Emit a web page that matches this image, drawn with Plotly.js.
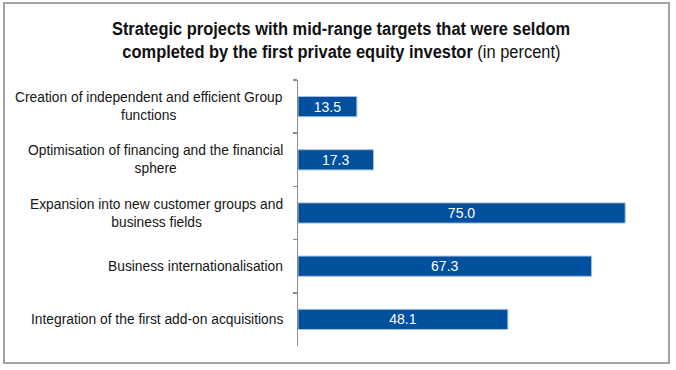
<!DOCTYPE html>
<html>
<head>
<meta charset="utf-8">
<script src="https://cdn.plot.ly/plotly-3.0.1.min.js"></script>
<style>
  html, body { margin: 0; padding: 0; background: #fff; }
  #wrap { position: relative; width: 676px; height: 370px; }
  #chart { position: absolute; left: 0; top: 0; width: 676px; height: 370px; }
  #frame { position: absolute; left: 3px; top: 2px; width: 663px; height: 358px;
           border: 2px solid #a3a3a3; pointer-events: none; }
  /* condensed look for the two title lines (Arial Narrow is not installed) */
  g.annotation[data-index="0"] text, g.annotation[data-index="1"] text {
    transform-box: fill-box; transform-origin: center; transform: scaleX(0.865);
  }
</style>
</head>
<body>
<div id="wrap">
  <div id="chart"></div>
  <div id="frame"></div>
</div>
<script>
// Data (top to bottom as in the chart)
const categories = [
  "Creation of independent and efficient Group<br>functions",
  "Optimisation of financing and the financial<br>sphere",
  "Expansion into new customer groups and<br>business fields",
  "Business internationalisation",
  "Integration of the first add-on acquisitions"
];
const values = [13.5, 17.3, 75.0, 67.3, 48.1];
const valueLabels = values.map(v => v.toFixed(1));
const titleLines = [
  "<b>Strategic projects with mid-range targets that were seldom</b>",
  "<b>completed by the first private equity investor</b> (in percent)"
];

const trace = {
  type: 'bar',
  orientation: 'h',
  x: values,
  y: categories,
  text: valueLabels,
  textposition: 'inside',
  insidetextanchor: 'middle',
  constraintext: 'none',
  textangle: 0,
  textfont: { family: 'Liberation Sans, Arial, sans-serif', size: 14, color: '#ffffff' },
  marker: { color: '#00509e', line: { color: '#a9c0e0', width: 1 } },
  width: 0.38,
  hoverinfo: 'none'
};

const titleFont = { family: 'Liberation Sans, Arial, sans-serif', size: 19, color: '#111111' };
const titleX = (341 - 298) / 349;   // centred on the whole figure
const annotations = [
  { text: titleLines[0], xref: 'paper', yref: 'paper', x: titleX, y: 1.192, xanchor: 'center', yanchor: 'middle',
    showarrow: false, font: titleFont },
  { text: titleLines[1], xref: 'paper', yref: 'paper', x: titleX, y: 1.106, xanchor: 'center', yanchor: 'middle',
    showarrow: false, font: titleFont }
];

categories.forEach(c => {
  annotations.push({
    text: c, xref: 'paper', yref: 'y', x: 0, y: c, xshift: -13,
    xanchor: 'right', yanchor: 'middle', align: 'center', showarrow: false,
    font: { family: 'Liberation Sans, Arial, sans-serif', size: 13.8, color: '#161616' }
  });
});

const layout = {
  width: 676,
  height: 370,
  margin: { l: 298, r: 29, t: 80, b: 24 },
  paper_bgcolor: '#ffffff',
  plot_bgcolor: '#ffffff',
  showlegend: false,
  xaxis: {
    range: [0, 80],
    visible: false,
    fixedrange: true
  },
  yaxis: {
    type: 'category',
    autorange: 'reversed',
    showline: true,
    linecolor: '#8c8c8c',
    linewidth: 1.5,
    ticks: 'outside',
    tickson: 'boundaries',
    ticklen: 4,
    tickcolor: '#8c8c8c',
    tickwidth: 1.5,
    showgrid: false,
    zeroline: false,
    showticklabels: false,
    fixedrange: true
  },
  annotations: annotations
};

Plotly.newPlot('chart', [trace], layout, { displayModeBar: false, staticPlot: true });
</script>
</body>
</html>
